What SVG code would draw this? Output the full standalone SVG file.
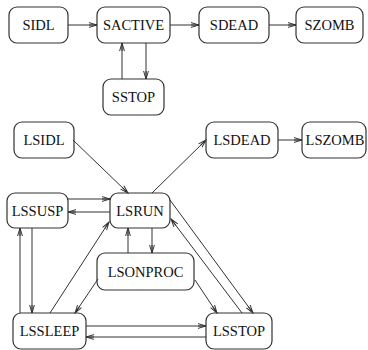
<svg xmlns="http://www.w3.org/2000/svg" width="368" height="350" viewBox="0 0 368 350">
  <style>
    .box { fill: #ffffff; stroke: #333333; stroke-width: 1.2; }
    .lbl { font-family: 'Liberation Serif', 'Times New Roman', Times, serif; font-size: 14.5px; fill: #111111; text-anchor: middle; }
    .edge { fill: none; stroke: #333333; stroke-width: 1; marker-end: url(#stick); }
  </style>
  <defs>
    <marker id="stick" markerUnits="userSpaceOnUse" viewBox="-9 -4 10 8" refX="0" refY="0" markerWidth="10" markerHeight="8" orient="auto">
      <path d="M-8,-2.4 L0,0 L-8,2.4 M-8,0 L0,0" fill="none" stroke="#333333" stroke-width="1"/>
    </marker>
  </defs>

  <rect width="368" height="350" fill="#ffffff"/>

  <!-- process states -->
  <g id="SIDL"><rect class="box" x="9" y="7" width="59" height="36" rx="8"/><text class="lbl" x="38.5" y="30">SIDL</text></g>
  <g id="SACTIVE"><rect class="box" x="97" y="7" width="73" height="36" rx="8"/><text class="lbl" x="133.5" y="30">SACTIVE</text></g>
  <g id="SDEAD"><rect class="box" x="199" y="7" width="70" height="36" rx="8"/><text class="lbl" x="234" y="30">SDEAD</text></g>
  <g id="SZOMB"><rect class="box" x="296" y="7" width="67" height="36" rx="8"/><text class="lbl" x="329.5" y="30">SZOMB</text></g>
  <g id="SSTOP"><rect class="box" x="103" y="79" width="61" height="36" rx="8"/><text class="lbl" x="133.5" y="102">SSTOP</text></g>

  <!-- LWP states -->
  <g id="LSIDL"><rect class="box" x="14" y="122" width="60" height="36" rx="8"/><text class="lbl" x="44" y="145">LSIDL</text></g>
  <g id="LSDEAD"><rect class="box" x="206" y="122" width="72" height="36" rx="8"/><text class="lbl" x="242" y="145">LSDEAD</text></g>
  <g id="LSZOMB"><rect class="box" x="302" y="122" width="64" height="36" rx="8"/><text class="lbl" x="335" y="145">LSZOMB</text></g>
  <g id="LSSUSP"><rect class="box" x="7" y="193" width="61" height="35" rx="8"/><text class="lbl" x="37.5" y="215.5">LSSUSP</text></g>
  <g id="LSRUN"><rect class="box" x="110" y="193" width="60" height="35" rx="8"/><text class="lbl" x="140" y="215.5">LSRUN</text></g>
  <g id="LSONPROC"><rect class="box" x="97" y="253" width="97" height="37" rx="8"/><text class="lbl" x="145.5" y="276.5">LSONPROC</text></g>
  <g id="LSSLEEP"><rect class="box" x="13" y="313" width="73" height="36" rx="8"/><text class="lbl" x="49.5" y="336">LSSLEEP</text></g>
  <g id="LSSTOP"><rect class="box" x="206" y="313" width="66" height="36" rx="8"/><text class="lbl" x="239" y="336">LSSTOP</text></g>

  <!-- transitions -->
  <g id="connectors">
    <path class="edge" d="M68,25 L97,25"/>
    <path class="edge" d="M170,25 L199,25"/>
    <path class="edge" d="M269,25 L296,25"/>
    <path class="edge" d="M122,79 L122,43"/>
    <path class="edge" d="M146,43 L146,79"/>

    <path class="edge" d="M73,140 L128,193"/>
    <path class="edge" d="M152,193 L206,140"/>
    <path class="edge" d="M278,140 L302,140"/>
    <path class="edge" d="M68,199 L110,199"/>
    <path class="edge" d="M110,212 L68,212"/>
    <path class="edge" d="M32,228 L32,313"/>
    <path class="edge" d="M20,313 L20,228"/>
    <path class="edge" d="M152,228 L152,253"/>
    <path class="edge" d="M128,253 L128,228"/>
    <path class="edge" d="M50,313 L109,222"/>
    <path class="edge" d="M98,279 L75,313"/>
    <path class="edge" d="M195,280 L217,313"/>
    <path class="edge" d="M170,200 L253,313"/>
    <path class="edge" d="M242,313 L171,219"/>
    <path class="edge" d="M86,326 L206,326"/>
    <path class="edge" d="M206,337 L86,337"/>
  </g>
</svg>
